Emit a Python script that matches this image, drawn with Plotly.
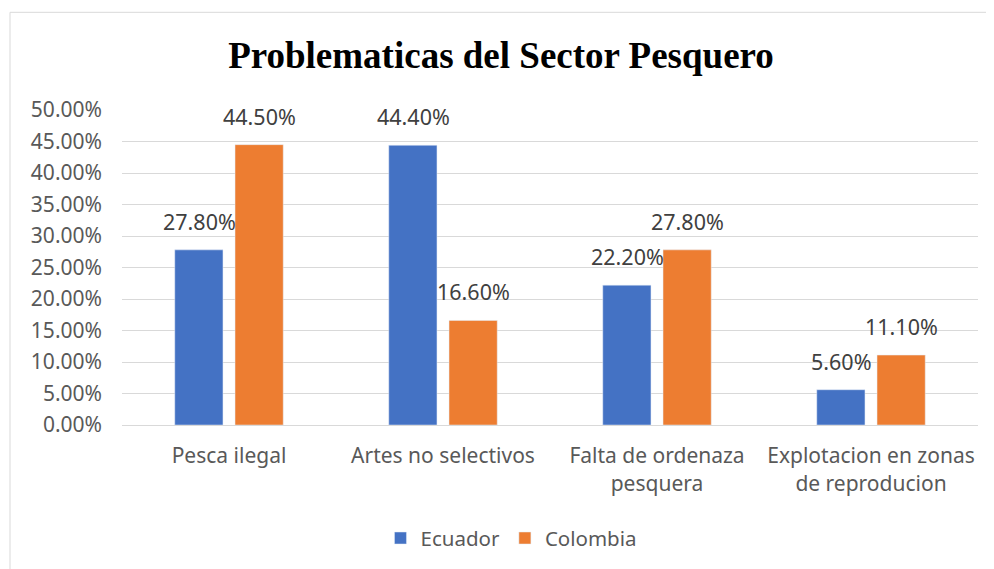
import plotly.graph_objects as go

categories = ["Pesca ilegal", "Artes no selectivos", "Falta de ordenaza<br>pesquera",
              "Explotacion en zonas<br>de reproducion"]
ecuador = [0.278, 0.444, 0.222, 0.056]
colombia = [0.445, 0.166, 0.278, 0.111]
y_ticks = [0, 0.05, 0.10, 0.15, 0.20, 0.25, 0.30, 0.35, 0.40, 0.45, 0.50]

BLUE = "#4472c4"
ORANGE = "#ed7d31"
TEXT = "#595959"
LABEL = "#404040"

fig = go.Figure()
fig.add_trace(go.Bar(x=categories, y=ecuador, name="Ecuador", marker_color=BLUE))
fig.add_trace(go.Bar(x=categories, y=colombia, name="Colombia", marker_color=ORANGE))

# data labels as annotations so they are not shrunk to the bar width
annotations = []
for values, shift in [(ecuador, -30), (colombia, 30)]:
    for cat, v in zip(categories, values):
        annotations.append(dict(x=cat, y=v, xshift=shift, yshift=12, text=f"{v:.2%}",
                                showarrow=False, yanchor="bottom",
                                font=dict(size=21.5, color=LABEL)))

fig.update_layout(
    width=986, height=561,
    barmode="group", bargap=0.437, bargroupgap=0.2,
    paper_bgcolor="white", plot_bgcolor="white",
    font=dict(family="Noto Sans", size=21, color=TEXT),
    title=dict(text="<b>Problematicas del Sector Pesquero</b>", x=0.5, xanchor="center",
               y=0.916, yanchor="middle",
               font=dict(family="Liberation Serif", size=37, color="black")),
    margin=dict(l=114, r=16, t=102, b=143),
    xaxis=dict(showline=True, linecolor="#d9d9d9", linewidth=1, ticks="",
               automargin=False, ticklabelstandoff=12,
               tickfont=dict(size=21, color=TEXT)),
    yaxis=dict(range=[0, 0.5], tickvals=y_ticks, tickformat=".2%", showgrid=True,
               gridcolor="#d9d9d9", zeroline=False, ticks="", ticklen=0,
               automargin=False, ticklabelstandoff=19,
               tickfont=dict(size=21, color=TEXT)),
    legend=dict(orientation="h", x=0.455, xanchor="center", y=-0.355, yanchor="middle",
                font=dict(size=20.5, color=TEXT), itemwidth=30),
    annotations=annotations,
    shapes=[dict(type="rect", xref="paper", yref="paper", x0=-112 / 856, x1=1.0165,
                 y0=-0.6, y1=414 / 316, line=dict(color="#d9d9d9", width=1))],
)

fig.write_html("out.html")
